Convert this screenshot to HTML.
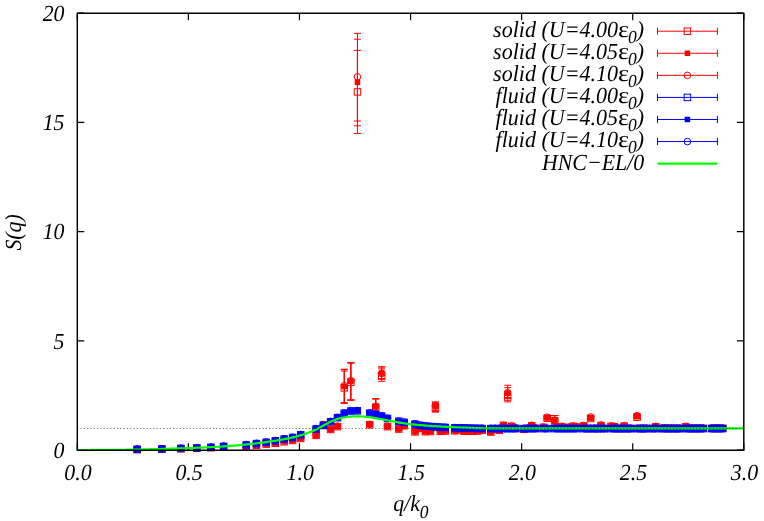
<!DOCTYPE html>
<html><head><meta charset="utf-8"><title>S(q)</title>
<style>html,body{margin:0;padding:0;background:#fff;}body{width:764px;height:521px;overflow:hidden;font-family:"Liberation Serif",serif;}svg{display:block;will-change:transform}</style>
</head><body>
<svg width="764" height="521" viewBox="0 0 764 521" font-family="Liberation Serif, serif" font-style="italic" font-size="22.1" fill="#000" text-rendering="geometricPrecision">
<rect width="764" height="521" fill="#fff"/>
<path fill="none" stroke="#000" stroke-width="1.2" d="M77.3 450.2v-7M77.3 13.2v7M188.38 450.2v-7M188.38 13.2v7M299.47 450.2v-7M299.47 13.2v7M410.55 450.2v-7M410.55 13.2v7M521.63 450.2v-7M521.63 13.2v7M632.72 450.2v-7M632.72 13.2v7M743.8 450.2v-7M743.8 13.2v7M77.3 450.2h7M743.8 450.2h-7M77.3 340.95h7M743.8 340.95h-7M77.3 231.7h7M743.8 231.7h-7M77.3 122.45h7M743.8 122.45h-7M77.3 13.2h7M743.8 13.2h-7"/>
<g stroke-width="1"><rect x="133.9" y="446.36" width="6.5" height="6.5" stroke="#ff0000" fill="none"/><rect x="158.61" y="445.96" width="6.5" height="6.5" stroke="#ff0000" fill="none"/><rect x="177.57" y="445.44" width="6.5" height="6.5" stroke="#ff0000" fill="none"/><rect x="193.55" y="445.04" width="6.5" height="6.5" stroke="#ff0000" fill="none"/><rect x="207.63" y="444.38" width="6.5" height="6.5" stroke="#ff0000" fill="none"/><rect x="220.37" y="443.42" width="6.5" height="6.5" stroke="#ff0000" fill="none"/><rect x="242.97" y="443.29" width="6.5" height="6.5" stroke="#ff0000" fill="none"/><rect x="253.2" y="441.98" width="6.5" height="6.5" stroke="#ff0000" fill="none"/><rect x="262.88" y="440.89" width="6.5" height="6.5" stroke="#ff0000" fill="none"/><rect x="272.09" y="440.01" width="6.5" height="6.5" stroke="#ff0000" fill="none"/><rect x="280.89" y="438.48" width="6.5" height="6.5" stroke="#ff0000" fill="none"/><rect x="289.33" y="437.17" width="6.5" height="6.5" stroke="#ff0000" fill="none"/><rect x="297.45" y="435.2" width="6.5" height="6.5" stroke="#ff0000" fill="none"/><rect x="312.86" y="432.14" width="6.5" height="6.5" stroke="#ff0000" fill="none"/><rect x="320.2" y="421.86" width="6.5" height="6.5" stroke="#ff0000" fill="none"/><rect x="327.33" y="426.23" width="6.5" height="6.5" stroke="#ff0000" fill="none"/><rect x="334.26" y="423.39" width="6.5" height="6.5" stroke="#ff0000" fill="none"/><path d="M344.27 403.19V371.03M340.77 403.19h7M340.77 371.03h7" stroke="#ff0000" fill="none"/><rect x="341.02" y="384.62" width="6.5" height="6.5" stroke="#ff0000" fill="none"/><path d="M350.86 400.12V362.83M347.36 400.12h7M347.36 362.83h7" stroke="#ff0000" fill="none"/><rect x="347.61" y="378.94" width="6.5" height="6.5" stroke="#ff0000" fill="none"/><path d="M357.45 133.47V50.34M353.95 133.47h7M353.95 50.34h7" stroke="#ff0000" fill="none"/><rect x="354.2" y="88.66" width="6.5" height="6.5" stroke="#ff0000" fill="none"/><rect x="366.48" y="421.53" width="6.5" height="6.5" stroke="#ff0000" fill="none"/><path d="M375.76 415V398.81M372.26 415h7M372.26 398.81h7" stroke="#ff0000" fill="none"/><rect x="372.51" y="404.09" width="6.5" height="6.5" stroke="#ff0000" fill="none"/><path d="M381.66 381.31V368.84M378.16 381.31h7M378.16 368.84h7" stroke="#ff0000" fill="none"/><rect x="378.41" y="372.38" width="6.5" height="6.5" stroke="#ff0000" fill="none"/><rect x="384.21" y="423.39" width="6.5" height="6.5" stroke="#ff0000" fill="none"/><rect x="395.48" y="425.79" width="6.5" height="6.5" stroke="#ff0000" fill="none"/><rect x="400.97" y="422.51" width="6.5" height="6.5" stroke="#ff0000" fill="none"/><rect x="411.69" y="428.64" width="6.5" height="6.5" stroke="#ff0000" fill="none"/><rect x="416.92" y="425.14" width="6.5" height="6.5" stroke="#ff0000" fill="none"/><rect x="422.07" y="428.42" width="6.5" height="6.5" stroke="#ff0000" fill="none"/><rect x="427.15" y="428.2" width="6.5" height="6.5" stroke="#ff0000" fill="none"/><path d="M435.41 412.16V403.41M431.91 412.16h7M431.91 403.41h7" stroke="#ff0000" fill="none"/><rect x="432.16" y="404.53" width="6.5" height="6.5" stroke="#ff0000" fill="none"/><rect x="437.1" y="427.98" width="6.5" height="6.5" stroke="#ff0000" fill="none"/><rect x="441.97" y="427.76" width="6.5" height="6.5" stroke="#ff0000" fill="none"/><rect x="451.52" y="427.54" width="6.5" height="6.5" stroke="#ff0000" fill="none"/><rect x="456.21" y="426.67" width="6.5" height="6.5" stroke="#ff0000" fill="none"/><rect x="460.84" y="427.98" width="6.5" height="6.5" stroke="#ff0000" fill="none"/><rect x="465.41" y="427.98" width="6.5" height="6.5" stroke="#ff0000" fill="none"/><rect x="469.93" y="427.98" width="6.5" height="6.5" stroke="#ff0000" fill="none"/><rect x="474.4" y="427.76" width="6.5" height="6.5" stroke="#ff0000" fill="none"/><rect x="478.83" y="427.11" width="6.5" height="6.5" stroke="#ff0000" fill="none"/><rect x="487.53" y="428.86" width="6.5" height="6.5" stroke="#ff0000" fill="none"/><rect x="491.81" y="425.79" width="6.5" height="6.5" stroke="#ff0000" fill="none"/><rect x="496.05" y="427.11" width="6.5" height="6.5" stroke="#ff0000" fill="none"/><rect x="500.25" y="422.29" width="6.5" height="6.5" stroke="#ff0000" fill="none"/><path d="M507.65 401.88V391.81M504.15 401.88h7M504.15 391.81h7" stroke="#ff0000" fill="none"/><rect x="504.4" y="393.81" width="6.5" height="6.5" stroke="#ff0000" fill="none"/><rect x="508.52" y="423.17" width="6.5" height="6.5" stroke="#ff0000" fill="none"/><rect x="512.6" y="425.14" width="6.5" height="6.5" stroke="#ff0000" fill="none"/><rect x="520.64" y="426.01" width="6.5" height="6.5" stroke="#ff0000" fill="none"/><rect x="524.61" y="425.14" width="6.5" height="6.5" stroke="#ff0000" fill="none"/><rect x="528.54" y="422.51" width="6.5" height="6.5" stroke="#ff0000" fill="none"/><rect x="532.44" y="425.14" width="6.5" height="6.5" stroke="#ff0000" fill="none"/><rect x="540.14" y="424.15" width="6.5" height="6.5" stroke="#ff0000" fill="none"/><path d="M547.2 419.81V416.75M543.7 419.81h7M543.7 416.75h7" stroke="#ff0000" fill="none"/><rect x="543.95" y="415.03" width="6.5" height="6.5" stroke="#ff0000" fill="none"/><path d="M554.71 423.75V415.55M551.21 423.75h7M551.21 415.55h7" stroke="#ff0000" fill="none"/><rect x="551.46" y="417.66" width="6.5" height="6.5" stroke="#ff0000" fill="none"/><rect x="555.17" y="423.82" width="6.5" height="6.5" stroke="#ff0000" fill="none"/><rect x="558.86" y="423.61" width="6.5" height="6.5" stroke="#ff0000" fill="none"/><rect x="562.52" y="425.14" width="6.5" height="6.5" stroke="#ff0000" fill="none"/><rect x="566.15" y="424.26" width="6.5" height="6.5" stroke="#ff0000" fill="none"/><rect x="569.75" y="423.17" width="6.5" height="6.5" stroke="#ff0000" fill="none"/><rect x="573.33" y="423.82" width="6.5" height="6.5" stroke="#ff0000" fill="none"/><rect x="580.41" y="422.73" width="6.5" height="6.5" stroke="#ff0000" fill="none"/><rect x="583.91" y="425.2" width="6.5" height="6.5" stroke="#ff0000" fill="none"/><path d="M590.64 420.25V416.75M587.14 420.25h7M587.14 416.75h7" stroke="#ff0000" fill="none"/><rect x="587.39" y="415.25" width="6.5" height="6.5" stroke="#ff0000" fill="none"/><rect x="590.85" y="425.2" width="6.5" height="6.5" stroke="#ff0000" fill="none"/><rect x="594.28" y="425.2" width="6.5" height="6.5" stroke="#ff0000" fill="none"/><rect x="597.69" y="422.29" width="6.5" height="6.5" stroke="#ff0000" fill="none"/><rect x="601.08" y="425.2" width="6.5" height="6.5" stroke="#ff0000" fill="none"/><rect x="607.79" y="423.17" width="6.5" height="6.5" stroke="#ff0000" fill="none"/><rect x="611.11" y="423.61" width="6.5" height="6.5" stroke="#ff0000" fill="none"/><rect x="614.42" y="425.19" width="6.5" height="6.5" stroke="#ff0000" fill="none"/><rect x="617.7" y="425.19" width="6.5" height="6.5" stroke="#ff0000" fill="none"/><rect x="620.96" y="422.95" width="6.5" height="6.5" stroke="#ff0000" fill="none"/><rect x="624.21" y="425.19" width="6.5" height="6.5" stroke="#ff0000" fill="none"/><rect x="627.43" y="425.19" width="6.5" height="6.5" stroke="#ff0000" fill="none"/><path d="M637.08 418.94V415.44M633.58 418.94h7M633.58 415.44h7" stroke="#ff0000" fill="none"/><rect x="633.83" y="413.94" width="6.5" height="6.5" stroke="#ff0000" fill="none"/><rect x="637" y="425.19" width="6.5" height="6.5" stroke="#ff0000" fill="none"/><rect x="640.15" y="425.19" width="6.5" height="6.5" stroke="#ff0000" fill="none"/><rect x="643.29" y="425.18" width="6.5" height="6.5" stroke="#ff0000" fill="none"/><rect x="649.51" y="425.18" width="6.5" height="6.5" stroke="#ff0000" fill="none"/><rect x="652.59" y="423.61" width="6.5" height="6.5" stroke="#ff0000" fill="none"/><rect x="658.71" y="425.18" width="6.5" height="6.5" stroke="#ff0000" fill="none"/><rect x="661.75" y="424.92" width="6.5" height="6.5" stroke="#ff0000" fill="none"/><rect x="664.77" y="425.17" width="6.5" height="6.5" stroke="#ff0000" fill="none"/><rect x="667.77" y="425.17" width="6.5" height="6.5" stroke="#ff0000" fill="none"/><rect x="670.76" y="425.17" width="6.5" height="6.5" stroke="#ff0000" fill="none"/><rect x="673.74" y="425.17" width="6.5" height="6.5" stroke="#ff0000" fill="none"/><rect x="676.7" y="425.16" width="6.5" height="6.5" stroke="#ff0000" fill="none"/><rect x="682.58" y="423.61" width="6.5" height="6.5" stroke="#ff0000" fill="none"/><rect x="685.49" y="425.16" width="6.5" height="6.5" stroke="#ff0000" fill="none"/><rect x="688.4" y="425.15" width="6.5" height="6.5" stroke="#ff0000" fill="none"/><rect x="691.29" y="425.15" width="6.5" height="6.5" stroke="#ff0000" fill="none"/><rect x="694.17" y="425.15" width="6.5" height="6.5" stroke="#ff0000" fill="none"/><rect x="697.03" y="425.15" width="6.5" height="6.5" stroke="#ff0000" fill="none"/><rect x="699.88" y="425.14" width="6.5" height="6.5" stroke="#ff0000" fill="none"/><rect x="708.35" y="425.13" width="6.5" height="6.5" stroke="#ff0000" fill="none"/><rect x="711.15" y="425.13" width="6.5" height="6.5" stroke="#ff0000" fill="none"/><rect x="713.94" y="425.13" width="6.5" height="6.5" stroke="#ff0000" fill="none"/><rect x="716.72" y="425.12" width="6.5" height="6.5" stroke="#ff0000" fill="none"/><rect x="719.48" y="425.12" width="6.5" height="6.5" stroke="#ff0000" fill="none"/></g>
<g stroke-width="1"><rect x="134.4" y="446.59" width="5.5" height="5.5" fill="#ff0000"/><rect x="159.11" y="446.2" width="5.5" height="5.5" fill="#ff0000"/><rect x="178.07" y="445.67" width="5.5" height="5.5" fill="#ff0000"/><rect x="194.05" y="445.28" width="5.5" height="5.5" fill="#ff0000"/><rect x="208.13" y="444.61" width="5.5" height="5.5" fill="#ff0000"/><rect x="220.87" y="443.66" width="5.5" height="5.5" fill="#ff0000"/><rect x="243.47" y="443.53" width="5.5" height="5.5" fill="#ff0000"/><rect x="253.7" y="442.22" width="5.5" height="5.5" fill="#ff0000"/><rect x="263.38" y="441.12" width="5.5" height="5.5" fill="#ff0000"/><rect x="272.59" y="440.25" width="5.5" height="5.5" fill="#ff0000"/><rect x="281.39" y="438.72" width="5.5" height="5.5" fill="#ff0000"/><rect x="289.83" y="437.41" width="5.5" height="5.5" fill="#ff0000"/><rect x="297.95" y="435.44" width="5.5" height="5.5" fill="#ff0000"/><rect x="313.36" y="432.38" width="5.5" height="5.5" fill="#ff0000"/><rect x="320.7" y="422.09" width="5.5" height="5.5" fill="#ff0000"/><rect x="327.83" y="426.47" width="5.5" height="5.5" fill="#ff0000"/><rect x="334.76" y="423.62" width="5.5" height="5.5" fill="#ff0000"/><path d="M344.27 403.19V369.39M340.77 403.19h7M340.77 369.39h7" stroke="#ff0000" fill="none"/><rect x="341.52" y="383.81" width="5.5" height="5.5" fill="#ff0000"/><path d="M350.86 400.12V362.83M347.36 400.12h7M347.36 362.83h7" stroke="#ff0000" fill="none"/><rect x="348.11" y="378.56" width="5.5" height="5.5" fill="#ff0000"/><path d="M357.45 125.81V39.19M353.95 125.81h7M353.95 39.19h7" stroke="#ff0000" fill="none"/><rect x="354.7" y="79.53" width="5.5" height="5.5" fill="#ff0000"/><rect x="366.98" y="421.77" width="5.5" height="5.5" fill="#ff0000"/><path d="M375.76 415V398.81M372.26 415h7M372.26 398.81h7" stroke="#ff0000" fill="none"/><rect x="373.01" y="403.94" width="5.5" height="5.5" fill="#ff0000"/><path d="M381.66 379.12V366.88M378.16 379.12h7M378.16 366.88h7" stroke="#ff0000" fill="none"/><rect x="378.91" y="370.25" width="5.5" height="5.5" fill="#ff0000"/><rect x="384.71" y="423.62" width="5.5" height="5.5" fill="#ff0000"/><rect x="395.98" y="426.03" width="5.5" height="5.5" fill="#ff0000"/><rect x="401.47" y="422.75" width="5.5" height="5.5" fill="#ff0000"/><rect x="412.19" y="428.88" width="5.5" height="5.5" fill="#ff0000"/><rect x="417.42" y="425.38" width="5.5" height="5.5" fill="#ff0000"/><rect x="422.57" y="428.66" width="5.5" height="5.5" fill="#ff0000"/><rect x="427.65" y="428.44" width="5.5" height="5.5" fill="#ff0000"/><path d="M435.41 411.06V402.09M431.91 411.06h7M431.91 402.09h7" stroke="#ff0000" fill="none"/><rect x="432.66" y="403.94" width="5.5" height="5.5" fill="#ff0000"/><rect x="437.6" y="428.22" width="5.5" height="5.5" fill="#ff0000"/><rect x="442.47" y="428" width="5.5" height="5.5" fill="#ff0000"/><rect x="452.02" y="427.78" width="5.5" height="5.5" fill="#ff0000"/><rect x="456.71" y="426.91" width="5.5" height="5.5" fill="#ff0000"/><rect x="461.34" y="428.22" width="5.5" height="5.5" fill="#ff0000"/><rect x="465.91" y="428.22" width="5.5" height="5.5" fill="#ff0000"/><rect x="470.43" y="428.22" width="5.5" height="5.5" fill="#ff0000"/><rect x="474.9" y="428" width="5.5" height="5.5" fill="#ff0000"/><rect x="479.33" y="427.34" width="5.5" height="5.5" fill="#ff0000"/><rect x="488.03" y="429.09" width="5.5" height="5.5" fill="#ff0000"/><rect x="492.31" y="426.03" width="5.5" height="5.5" fill="#ff0000"/><rect x="496.55" y="427.34" width="5.5" height="5.5" fill="#ff0000"/><rect x="500.75" y="422.53" width="5.5" height="5.5" fill="#ff0000"/><path d="M507.65 398.59V387.66M504.15 398.59h7M504.15 387.66h7" stroke="#ff0000" fill="none"/><rect x="504.9" y="390.38" width="5.5" height="5.5" fill="#ff0000"/><rect x="509.02" y="423.41" width="5.5" height="5.5" fill="#ff0000"/><rect x="513.1" y="425.38" width="5.5" height="5.5" fill="#ff0000"/><rect x="521.14" y="426.25" width="5.5" height="5.5" fill="#ff0000"/><rect x="525.11" y="425.38" width="5.5" height="5.5" fill="#ff0000"/><rect x="529.04" y="422.75" width="5.5" height="5.5" fill="#ff0000"/><rect x="532.94" y="425.38" width="5.5" height="5.5" fill="#ff0000"/><rect x="540.64" y="424.39" width="5.5" height="5.5" fill="#ff0000"/><path d="M547.2 419.38V416.09M543.7 419.38h7M543.7 416.09h7" stroke="#ff0000" fill="none"/><rect x="544.45" y="414.88" width="5.5" height="5.5" fill="#ff0000"/><path d="M554.71 423.75V415.55M551.21 423.75h7M551.21 415.55h7" stroke="#ff0000" fill="none"/><rect x="551.96" y="417.72" width="5.5" height="5.5" fill="#ff0000"/><rect x="555.67" y="424.06" width="5.5" height="5.5" fill="#ff0000"/><rect x="559.36" y="423.84" width="5.5" height="5.5" fill="#ff0000"/><rect x="563.02" y="425.38" width="5.5" height="5.5" fill="#ff0000"/><rect x="566.65" y="424.5" width="5.5" height="5.5" fill="#ff0000"/><rect x="570.25" y="423.41" width="5.5" height="5.5" fill="#ff0000"/><rect x="573.83" y="424.06" width="5.5" height="5.5" fill="#ff0000"/><rect x="580.91" y="422.97" width="5.5" height="5.5" fill="#ff0000"/><rect x="584.41" y="425.7" width="5.5" height="5.5" fill="#ff0000"/><path d="M590.64 419.38V416.09M587.14 419.38h7M587.14 416.09h7" stroke="#ff0000" fill="none"/><rect x="587.89" y="414.88" width="5.5" height="5.5" fill="#ff0000"/><rect x="591.35" y="425.7" width="5.5" height="5.5" fill="#ff0000"/><rect x="594.78" y="425.7" width="5.5" height="5.5" fill="#ff0000"/><rect x="598.19" y="422.53" width="5.5" height="5.5" fill="#ff0000"/><rect x="601.58" y="425.7" width="5.5" height="5.5" fill="#ff0000"/><rect x="608.29" y="423.41" width="5.5" height="5.5" fill="#ff0000"/><rect x="611.61" y="423.84" width="5.5" height="5.5" fill="#ff0000"/><rect x="614.92" y="425.69" width="5.5" height="5.5" fill="#ff0000"/><rect x="618.2" y="425.69" width="5.5" height="5.5" fill="#ff0000"/><rect x="621.46" y="423.19" width="5.5" height="5.5" fill="#ff0000"/><rect x="624.71" y="425.69" width="5.5" height="5.5" fill="#ff0000"/><rect x="627.93" y="425.69" width="5.5" height="5.5" fill="#ff0000"/><path d="M637.08 418.06V414.56M633.58 418.06h7M633.58 414.56h7" stroke="#ff0000" fill="none"/><rect x="634.33" y="413.56" width="5.5" height="5.5" fill="#ff0000"/><rect x="637.5" y="425.69" width="5.5" height="5.5" fill="#ff0000"/><rect x="640.65" y="425.69" width="5.5" height="5.5" fill="#ff0000"/><rect x="643.79" y="425.68" width="5.5" height="5.5" fill="#ff0000"/><rect x="650.01" y="425.68" width="5.5" height="5.5" fill="#ff0000"/><rect x="653.09" y="423.84" width="5.5" height="5.5" fill="#ff0000"/><rect x="659.21" y="425.68" width="5.5" height="5.5" fill="#ff0000"/><rect x="662.25" y="425.16" width="5.5" height="5.5" fill="#ff0000"/><rect x="665.27" y="425.67" width="5.5" height="5.5" fill="#ff0000"/><rect x="668.27" y="425.67" width="5.5" height="5.5" fill="#ff0000"/><rect x="671.26" y="425.67" width="5.5" height="5.5" fill="#ff0000"/><rect x="674.24" y="425.67" width="5.5" height="5.5" fill="#ff0000"/><rect x="677.2" y="425.66" width="5.5" height="5.5" fill="#ff0000"/><rect x="683.08" y="423.84" width="5.5" height="5.5" fill="#ff0000"/><rect x="685.99" y="425.66" width="5.5" height="5.5" fill="#ff0000"/><rect x="688.9" y="425.65" width="5.5" height="5.5" fill="#ff0000"/><rect x="691.79" y="425.65" width="5.5" height="5.5" fill="#ff0000"/><rect x="694.67" y="425.65" width="5.5" height="5.5" fill="#ff0000"/><rect x="697.53" y="425.65" width="5.5" height="5.5" fill="#ff0000"/><rect x="700.38" y="425.64" width="5.5" height="5.5" fill="#ff0000"/><rect x="708.85" y="425.63" width="5.5" height="5.5" fill="#ff0000"/><rect x="711.65" y="425.63" width="5.5" height="5.5" fill="#ff0000"/><rect x="714.44" y="425.63" width="5.5" height="5.5" fill="#ff0000"/><rect x="717.22" y="425.62" width="5.5" height="5.5" fill="#ff0000"/><rect x="719.98" y="425.62" width="5.5" height="5.5" fill="#ff0000"/></g>
<g stroke-width="1"><circle cx="137.15" cy="449.08" r="3.3" stroke="#ff0000" fill="none"/><circle cx="161.86" cy="448.69" r="3.3" stroke="#ff0000" fill="none"/><circle cx="180.82" cy="448.16" r="3.3" stroke="#ff0000" fill="none"/><circle cx="196.8" cy="447.77" r="3.3" stroke="#ff0000" fill="none"/><circle cx="210.88" cy="447.1" r="3.3" stroke="#ff0000" fill="none"/><circle cx="223.62" cy="446.15" r="3.3" stroke="#ff0000" fill="none"/><circle cx="246.22" cy="446.02" r="3.3" stroke="#ff0000" fill="none"/><circle cx="256.45" cy="444.71" r="3.3" stroke="#ff0000" fill="none"/><circle cx="266.13" cy="443.61" r="3.3" stroke="#ff0000" fill="none"/><circle cx="275.34" cy="442.74" r="3.3" stroke="#ff0000" fill="none"/><circle cx="284.14" cy="441.21" r="3.3" stroke="#ff0000" fill="none"/><circle cx="292.58" cy="439.89" r="3.3" stroke="#ff0000" fill="none"/><circle cx="300.7" cy="437.93" r="3.3" stroke="#ff0000" fill="none"/><circle cx="316.11" cy="434.86" r="3.3" stroke="#ff0000" fill="none"/><circle cx="323.45" cy="424.58" r="3.3" stroke="#ff0000" fill="none"/><circle cx="330.58" cy="428.96" r="3.3" stroke="#ff0000" fill="none"/><circle cx="337.51" cy="426.11" r="3.3" stroke="#ff0000" fill="none"/><path d="M344.27 402.75V369.39M340.77 402.75h7M340.77 369.39h7" stroke="#ff0000" fill="none"/><circle cx="344.27" cy="385.69" r="3.3" stroke="#ff0000" fill="none"/><path d="M350.86 399.91V362.83M347.36 399.91h7M347.36 362.83h7" stroke="#ff0000" fill="none"/><circle cx="350.86" cy="380.66" r="3.3" stroke="#ff0000" fill="none"/><path d="M357.45 121V33.39M353.95 121h7M353.95 33.39h7" stroke="#ff0000" fill="none"/><circle cx="357.45" cy="76.81" r="3.3" stroke="#ff0000" fill="none"/><circle cx="369.73" cy="424.25" r="3.3" stroke="#ff0000" fill="none"/><path d="M375.76 415V398.81M372.26 415h7M372.26 398.81h7" stroke="#ff0000" fill="none"/><circle cx="375.76" cy="406.25" r="3.3" stroke="#ff0000" fill="none"/><path d="M381.66 379.12V366.88M378.16 379.12h7M378.16 366.88h7" stroke="#ff0000" fill="none"/><circle cx="381.66" cy="373.44" r="3.3" stroke="#ff0000" fill="none"/><circle cx="387.46" cy="426.11" r="3.3" stroke="#ff0000" fill="none"/><circle cx="398.73" cy="428.52" r="3.3" stroke="#ff0000" fill="none"/><circle cx="404.22" cy="425.24" r="3.3" stroke="#ff0000" fill="none"/><circle cx="414.94" cy="431.36" r="3.3" stroke="#ff0000" fill="none"/><circle cx="420.17" cy="427.86" r="3.3" stroke="#ff0000" fill="none"/><circle cx="425.32" cy="431.14" r="3.3" stroke="#ff0000" fill="none"/><circle cx="430.4" cy="430.93" r="3.3" stroke="#ff0000" fill="none"/><path d="M435.41 410.62V402.09M431.91 410.62h7M431.91 402.09h7" stroke="#ff0000" fill="none"/><circle cx="435.41" cy="405.81" r="3.3" stroke="#ff0000" fill="none"/><circle cx="440.35" cy="430.71" r="3.3" stroke="#ff0000" fill="none"/><circle cx="445.22" cy="430.49" r="3.3" stroke="#ff0000" fill="none"/><circle cx="454.77" cy="430.27" r="3.3" stroke="#ff0000" fill="none"/><circle cx="459.46" cy="429.39" r="3.3" stroke="#ff0000" fill="none"/><circle cx="464.09" cy="430.71" r="3.3" stroke="#ff0000" fill="none"/><circle cx="468.66" cy="430.71" r="3.3" stroke="#ff0000" fill="none"/><circle cx="473.18" cy="430.71" r="3.3" stroke="#ff0000" fill="none"/><circle cx="477.65" cy="430.49" r="3.3" stroke="#ff0000" fill="none"/><circle cx="482.08" cy="429.83" r="3.3" stroke="#ff0000" fill="none"/><circle cx="490.78" cy="431.58" r="3.3" stroke="#ff0000" fill="none"/><circle cx="495.06" cy="428.52" r="3.3" stroke="#ff0000" fill="none"/><circle cx="499.3" cy="429.83" r="3.3" stroke="#ff0000" fill="none"/><circle cx="503.5" cy="425.02" r="3.3" stroke="#ff0000" fill="none"/><path d="M507.65 397.5V385.25M504.15 397.5h7M504.15 385.25h7" stroke="#ff0000" fill="none"/><circle cx="507.65" cy="392.69" r="3.3" stroke="#ff0000" fill="none"/><circle cx="511.77" cy="425.89" r="3.3" stroke="#ff0000" fill="none"/><circle cx="515.85" cy="427.86" r="3.3" stroke="#ff0000" fill="none"/><circle cx="523.89" cy="428.74" r="3.3" stroke="#ff0000" fill="none"/><circle cx="527.86" cy="427.86" r="3.3" stroke="#ff0000" fill="none"/><circle cx="531.79" cy="425.24" r="3.3" stroke="#ff0000" fill="none"/><circle cx="535.69" cy="427.86" r="3.3" stroke="#ff0000" fill="none"/><circle cx="543.39" cy="426.88" r="3.3" stroke="#ff0000" fill="none"/><path d="M547.2 418.94V415.66M543.7 418.94h7M543.7 415.66h7" stroke="#ff0000" fill="none"/><circle cx="547.2" cy="417.19" r="3.3" stroke="#ff0000" fill="none"/><path d="M554.71 423.75V415.55M551.21 423.75h7M551.21 415.55h7" stroke="#ff0000" fill="none"/><circle cx="554.71" cy="420.25" r="3.3" stroke="#ff0000" fill="none"/><circle cx="558.42" cy="426.55" r="3.3" stroke="#ff0000" fill="none"/><circle cx="562.11" cy="426.33" r="3.3" stroke="#ff0000" fill="none"/><circle cx="565.77" cy="427.86" r="3.3" stroke="#ff0000" fill="none"/><circle cx="569.4" cy="426.99" r="3.3" stroke="#ff0000" fill="none"/><circle cx="573" cy="425.89" r="3.3" stroke="#ff0000" fill="none"/><circle cx="576.58" cy="426.55" r="3.3" stroke="#ff0000" fill="none"/><circle cx="583.66" cy="425.46" r="3.3" stroke="#ff0000" fill="none"/><circle cx="587.16" cy="428.45" r="3.3" stroke="#ff0000" fill="none"/><path d="M590.64 418.94V415.44M587.14 418.94h7M587.14 415.44h7" stroke="#ff0000" fill="none"/><circle cx="590.64" cy="416.97" r="3.3" stroke="#ff0000" fill="none"/><circle cx="594.1" cy="428.45" r="3.3" stroke="#ff0000" fill="none"/><circle cx="597.53" cy="428.45" r="3.3" stroke="#ff0000" fill="none"/><circle cx="600.94" cy="425.02" r="3.3" stroke="#ff0000" fill="none"/><circle cx="604.33" cy="428.45" r="3.3" stroke="#ff0000" fill="none"/><circle cx="611.04" cy="425.89" r="3.3" stroke="#ff0000" fill="none"/><circle cx="614.36" cy="426.33" r="3.3" stroke="#ff0000" fill="none"/><circle cx="617.67" cy="428.44" r="3.3" stroke="#ff0000" fill="none"/><circle cx="620.95" cy="428.44" r="3.3" stroke="#ff0000" fill="none"/><circle cx="624.21" cy="425.68" r="3.3" stroke="#ff0000" fill="none"/><circle cx="627.46" cy="428.44" r="3.3" stroke="#ff0000" fill="none"/><circle cx="630.68" cy="428.44" r="3.3" stroke="#ff0000" fill="none"/><path d="M637.08 417.62V413.91M633.58 417.62h7M633.58 413.91h7" stroke="#ff0000" fill="none"/><circle cx="637.08" cy="415.66" r="3.3" stroke="#ff0000" fill="none"/><circle cx="640.25" cy="428.44" r="3.3" stroke="#ff0000" fill="none"/><circle cx="643.4" cy="428.44" r="3.3" stroke="#ff0000" fill="none"/><circle cx="646.54" cy="428.43" r="3.3" stroke="#ff0000" fill="none"/><circle cx="652.76" cy="428.43" r="3.3" stroke="#ff0000" fill="none"/><circle cx="655.84" cy="426.33" r="3.3" stroke="#ff0000" fill="none"/><circle cx="661.96" cy="428.43" r="3.3" stroke="#ff0000" fill="none"/><circle cx="665" cy="427.64" r="3.3" stroke="#ff0000" fill="none"/><circle cx="668.02" cy="428.42" r="3.3" stroke="#ff0000" fill="none"/><circle cx="671.02" cy="428.42" r="3.3" stroke="#ff0000" fill="none"/><circle cx="674.01" cy="428.42" r="3.3" stroke="#ff0000" fill="none"/><circle cx="676.99" cy="428.42" r="3.3" stroke="#ff0000" fill="none"/><circle cx="679.95" cy="428.41" r="3.3" stroke="#ff0000" fill="none"/><circle cx="685.83" cy="426.33" r="3.3" stroke="#ff0000" fill="none"/><circle cx="688.74" cy="428.41" r="3.3" stroke="#ff0000" fill="none"/><circle cx="691.65" cy="428.4" r="3.3" stroke="#ff0000" fill="none"/><circle cx="694.54" cy="428.4" r="3.3" stroke="#ff0000" fill="none"/><circle cx="697.42" cy="428.4" r="3.3" stroke="#ff0000" fill="none"/><circle cx="700.28" cy="428.4" r="3.3" stroke="#ff0000" fill="none"/><circle cx="703.13" cy="428.39" r="3.3" stroke="#ff0000" fill="none"/><circle cx="711.6" cy="428.38" r="3.3" stroke="#ff0000" fill="none"/><circle cx="714.4" cy="428.38" r="3.3" stroke="#ff0000" fill="none"/><circle cx="717.19" cy="428.38" r="3.3" stroke="#ff0000" fill="none"/><circle cx="719.97" cy="428.37" r="3.3" stroke="#ff0000" fill="none"/><circle cx="722.73" cy="428.37" r="3.3" stroke="#ff0000" fill="none"/></g>
<g stroke-width="1"><rect x="133.9" y="446.14" width="6.5" height="6.5" stroke="#0000ff" fill="none"/><rect x="158.61" y="445.74" width="6.5" height="6.5" stroke="#0000ff" fill="none"/><rect x="177.57" y="445.22" width="6.5" height="6.5" stroke="#0000ff" fill="none"/><rect x="193.55" y="444.82" width="6.5" height="6.5" stroke="#0000ff" fill="none"/><rect x="207.63" y="444.16" width="6.5" height="6.5" stroke="#0000ff" fill="none"/><rect x="220.37" y="443.2" width="6.5" height="6.5" stroke="#0000ff" fill="none"/><rect x="242.97" y="441.68" width="6.5" height="6.5" stroke="#0000ff" fill="none"/><rect x="253.2" y="440.36" width="6.5" height="6.5" stroke="#0000ff" fill="none"/><rect x="262.88" y="439.06" width="6.5" height="6.5" stroke="#0000ff" fill="none"/><rect x="272.09" y="437.51" width="6.5" height="6.5" stroke="#0000ff" fill="none"/><rect x="280.89" y="435.78" width="6.5" height="6.5" stroke="#0000ff" fill="none"/><rect x="289.33" y="434.25" width="6.5" height="6.5" stroke="#0000ff" fill="none"/><rect x="297.45" y="431.58" width="6.5" height="6.5" stroke="#0000ff" fill="none"/><rect x="312.86" y="425.73" width="6.5" height="6.5" stroke="#0000ff" fill="none"/><rect x="320.2" y="422.22" width="6.5" height="6.5" stroke="#0000ff" fill="none"/><rect x="327.33" y="418.49" width="6.5" height="6.5" stroke="#0000ff" fill="none"/><rect x="334.26" y="414.41" width="6.5" height="6.5" stroke="#0000ff" fill="none"/><rect x="341.02" y="409.96" width="6.5" height="6.5" stroke="#0000ff" fill="none"/><rect x="347.61" y="407.77" width="6.5" height="6.5" stroke="#0000ff" fill="none"/><rect x="354.04" y="407.55" width="6.5" height="6.5" stroke="#0000ff" fill="none"/><rect x="366.48" y="409.95" width="6.5" height="6.5" stroke="#0000ff" fill="none"/><rect x="372.51" y="411.27" width="6.5" height="6.5" stroke="#0000ff" fill="none"/><rect x="378.41" y="412.8" width="6.5" height="6.5" stroke="#0000ff" fill="none"/><rect x="384.21" y="415.21" width="6.5" height="6.5" stroke="#0000ff" fill="none"/><rect x="395.48" y="418.05" width="6.5" height="6.5" stroke="#0000ff" fill="none"/><rect x="400.97" y="419.14" width="6.5" height="6.5" stroke="#0000ff" fill="none"/><rect x="411.69" y="420.89" width="6.5" height="6.5" stroke="#0000ff" fill="none"/><rect x="416.92" y="422.19" width="6.5" height="6.5" stroke="#0000ff" fill="none"/><rect x="422.07" y="422.83" width="6.5" height="6.5" stroke="#0000ff" fill="none"/><rect x="427.15" y="423.3" width="6.5" height="6.5" stroke="#0000ff" fill="none"/><rect x="432.16" y="423.69" width="6.5" height="6.5" stroke="#0000ff" fill="none"/><rect x="437.1" y="424" width="6.5" height="6.5" stroke="#0000ff" fill="none"/><rect x="441.97" y="424.25" width="6.5" height="6.5" stroke="#0000ff" fill="none"/><rect x="451.52" y="424.61" width="6.5" height="6.5" stroke="#0000ff" fill="none"/><rect x="456.21" y="424.75" width="6.5" height="6.5" stroke="#0000ff" fill="none"/><rect x="460.84" y="424.89" width="6.5" height="6.5" stroke="#0000ff" fill="none"/><rect x="465.41" y="425.01" width="6.5" height="6.5" stroke="#0000ff" fill="none"/><rect x="469.93" y="425.11" width="6.5" height="6.5" stroke="#0000ff" fill="none"/><rect x="474.4" y="425.2" width="6.5" height="6.5" stroke="#0000ff" fill="none"/><rect x="478.83" y="425.27" width="6.5" height="6.5" stroke="#0000ff" fill="none"/><rect x="487.53" y="425.34" width="6.5" height="6.5" stroke="#0000ff" fill="none"/><rect x="491.81" y="425.35" width="6.5" height="6.5" stroke="#0000ff" fill="none"/><rect x="496.05" y="425.35" width="6.5" height="6.5" stroke="#0000ff" fill="none"/><rect x="500.25" y="425.36" width="6.5" height="6.5" stroke="#0000ff" fill="none"/><rect x="504.4" y="425.37" width="6.5" height="6.5" stroke="#0000ff" fill="none"/><rect x="508.52" y="425.37" width="6.5" height="6.5" stroke="#0000ff" fill="none"/><rect x="512.6" y="425.38" width="6.5" height="6.5" stroke="#0000ff" fill="none"/><rect x="520.64" y="425.38" width="6.5" height="6.5" stroke="#0000ff" fill="none"/><rect x="524.61" y="425.38" width="6.5" height="6.5" stroke="#0000ff" fill="none"/><rect x="528.54" y="425.38" width="6.5" height="6.5" stroke="#0000ff" fill="none"/><rect x="532.44" y="425.38" width="6.5" height="6.5" stroke="#0000ff" fill="none"/><rect x="540.14" y="425.38" width="6.5" height="6.5" stroke="#0000ff" fill="none"/><rect x="543.95" y="425.38" width="6.5" height="6.5" stroke="#0000ff" fill="none"/><rect x="551.46" y="425.38" width="6.5" height="6.5" stroke="#0000ff" fill="none"/><rect x="555.17" y="425.38" width="6.5" height="6.5" stroke="#0000ff" fill="none"/><rect x="558.86" y="425.38" width="6.5" height="6.5" stroke="#0000ff" fill="none"/><rect x="562.52" y="425.38" width="6.5" height="6.5" stroke="#0000ff" fill="none"/><rect x="566.15" y="425.38" width="6.5" height="6.5" stroke="#0000ff" fill="none"/><rect x="569.75" y="425.38" width="6.5" height="6.5" stroke="#0000ff" fill="none"/><rect x="573.33" y="425.38" width="6.5" height="6.5" stroke="#0000ff" fill="none"/><rect x="580.41" y="425.38" width="6.5" height="6.5" stroke="#0000ff" fill="none"/><rect x="583.91" y="425.38" width="6.5" height="6.5" stroke="#0000ff" fill="none"/><rect x="587.39" y="425.37" width="6.5" height="6.5" stroke="#0000ff" fill="none"/><rect x="590.85" y="425.37" width="6.5" height="6.5" stroke="#0000ff" fill="none"/><rect x="594.28" y="425.37" width="6.5" height="6.5" stroke="#0000ff" fill="none"/><rect x="597.69" y="425.37" width="6.5" height="6.5" stroke="#0000ff" fill="none"/><rect x="601.08" y="425.37" width="6.5" height="6.5" stroke="#0000ff" fill="none"/><rect x="607.79" y="425.37" width="6.5" height="6.5" stroke="#0000ff" fill="none"/><rect x="611.11" y="425.37" width="6.5" height="6.5" stroke="#0000ff" fill="none"/><rect x="614.42" y="425.37" width="6.5" height="6.5" stroke="#0000ff" fill="none"/><rect x="617.7" y="425.37" width="6.5" height="6.5" stroke="#0000ff" fill="none"/><rect x="620.96" y="425.37" width="6.5" height="6.5" stroke="#0000ff" fill="none"/><rect x="624.21" y="425.37" width="6.5" height="6.5" stroke="#0000ff" fill="none"/><rect x="627.43" y="425.37" width="6.5" height="6.5" stroke="#0000ff" fill="none"/><rect x="633.83" y="425.36" width="6.5" height="6.5" stroke="#0000ff" fill="none"/><rect x="637" y="425.36" width="6.5" height="6.5" stroke="#0000ff" fill="none"/><rect x="640.15" y="425.36" width="6.5" height="6.5" stroke="#0000ff" fill="none"/><rect x="643.29" y="425.36" width="6.5" height="6.5" stroke="#0000ff" fill="none"/><rect x="649.51" y="425.36" width="6.5" height="6.5" stroke="#0000ff" fill="none"/><rect x="652.59" y="425.35" width="6.5" height="6.5" stroke="#0000ff" fill="none"/><rect x="658.71" y="425.35" width="6.5" height="6.5" stroke="#0000ff" fill="none"/><rect x="661.75" y="425.35" width="6.5" height="6.5" stroke="#0000ff" fill="none"/><rect x="664.77" y="425.35" width="6.5" height="6.5" stroke="#0000ff" fill="none"/><rect x="667.77" y="425.34" width="6.5" height="6.5" stroke="#0000ff" fill="none"/><rect x="670.76" y="425.34" width="6.5" height="6.5" stroke="#0000ff" fill="none"/><rect x="673.74" y="425.34" width="6.5" height="6.5" stroke="#0000ff" fill="none"/><rect x="676.7" y="425.34" width="6.5" height="6.5" stroke="#0000ff" fill="none"/><rect x="682.58" y="425.33" width="6.5" height="6.5" stroke="#0000ff" fill="none"/><rect x="685.49" y="425.33" width="6.5" height="6.5" stroke="#0000ff" fill="none"/><rect x="688.4" y="425.33" width="6.5" height="6.5" stroke="#0000ff" fill="none"/><rect x="691.29" y="425.33" width="6.5" height="6.5" stroke="#0000ff" fill="none"/><rect x="694.17" y="425.32" width="6.5" height="6.5" stroke="#0000ff" fill="none"/><rect x="697.03" y="425.32" width="6.5" height="6.5" stroke="#0000ff" fill="none"/><rect x="699.88" y="425.32" width="6.5" height="6.5" stroke="#0000ff" fill="none"/><rect x="708.35" y="425.31" width="6.5" height="6.5" stroke="#0000ff" fill="none"/><rect x="711.15" y="425.31" width="6.5" height="6.5" stroke="#0000ff" fill="none"/><rect x="713.94" y="425.3" width="6.5" height="6.5" stroke="#0000ff" fill="none"/><rect x="716.72" y="425.3" width="6.5" height="6.5" stroke="#0000ff" fill="none"/><rect x="719.48" y="425.3" width="6.5" height="6.5" stroke="#0000ff" fill="none"/></g>
<g stroke-width="1"><rect x="134.4" y="446.46" width="5.5" height="5.5" fill="#0000ff"/><rect x="159.11" y="446.07" width="5.5" height="5.5" fill="#0000ff"/><rect x="178.07" y="445.54" width="5.5" height="5.5" fill="#0000ff"/><rect x="194.05" y="445.15" width="5.5" height="5.5" fill="#0000ff"/><rect x="208.13" y="444.48" width="5.5" height="5.5" fill="#0000ff"/><rect x="220.87" y="443.53" width="5.5" height="5.5" fill="#0000ff"/><rect x="243.47" y="442" width="5.5" height="5.5" fill="#0000ff"/><rect x="253.7" y="440.68" width="5.5" height="5.5" fill="#0000ff"/><rect x="263.38" y="439.38" width="5.5" height="5.5" fill="#0000ff"/><rect x="272.59" y="437.84" width="5.5" height="5.5" fill="#0000ff"/><rect x="281.39" y="436.1" width="5.5" height="5.5" fill="#0000ff"/><rect x="289.83" y="434.57" width="5.5" height="5.5" fill="#0000ff"/><rect x="297.95" y="431.91" width="5.5" height="5.5" fill="#0000ff"/><rect x="313.36" y="426.05" width="5.5" height="5.5" fill="#0000ff"/><rect x="320.7" y="422.54" width="5.5" height="5.5" fill="#0000ff"/><rect x="327.83" y="418.81" width="5.5" height="5.5" fill="#0000ff"/><rect x="334.76" y="414.73" width="5.5" height="5.5" fill="#0000ff"/><rect x="341.52" y="410.28" width="5.5" height="5.5" fill="#0000ff"/><rect x="348.11" y="408.09" width="5.5" height="5.5" fill="#0000ff"/><rect x="354.54" y="407.88" width="5.5" height="5.5" fill="#0000ff"/><rect x="366.98" y="410.28" width="5.5" height="5.5" fill="#0000ff"/><rect x="373.01" y="411.59" width="5.5" height="5.5" fill="#0000ff"/><rect x="378.91" y="413.13" width="5.5" height="5.5" fill="#0000ff"/><rect x="384.71" y="415.53" width="5.5" height="5.5" fill="#0000ff"/><rect x="395.98" y="418.37" width="5.5" height="5.5" fill="#0000ff"/><rect x="401.47" y="419.47" width="5.5" height="5.5" fill="#0000ff"/><rect x="412.19" y="421.22" width="5.5" height="5.5" fill="#0000ff"/><rect x="417.42" y="422.51" width="5.5" height="5.5" fill="#0000ff"/><rect x="422.57" y="423.16" width="5.5" height="5.5" fill="#0000ff"/><rect x="427.65" y="423.63" width="5.5" height="5.5" fill="#0000ff"/><rect x="432.66" y="424.01" width="5.5" height="5.5" fill="#0000ff"/><rect x="437.6" y="424.32" width="5.5" height="5.5" fill="#0000ff"/><rect x="442.47" y="424.57" width="5.5" height="5.5" fill="#0000ff"/><rect x="452.02" y="424.93" width="5.5" height="5.5" fill="#0000ff"/><rect x="456.71" y="425.08" width="5.5" height="5.5" fill="#0000ff"/><rect x="461.34" y="425.21" width="5.5" height="5.5" fill="#0000ff"/><rect x="465.91" y="425.33" width="5.5" height="5.5" fill="#0000ff"/><rect x="470.43" y="425.44" width="5.5" height="5.5" fill="#0000ff"/><rect x="474.9" y="425.52" width="5.5" height="5.5" fill="#0000ff"/><rect x="479.33" y="425.59" width="5.5" height="5.5" fill="#0000ff"/><rect x="488.03" y="425.66" width="5.5" height="5.5" fill="#0000ff"/><rect x="492.31" y="425.67" width="5.5" height="5.5" fill="#0000ff"/><rect x="496.55" y="425.68" width="5.5" height="5.5" fill="#0000ff"/><rect x="500.75" y="425.69" width="5.5" height="5.5" fill="#0000ff"/><rect x="504.9" y="425.69" width="5.5" height="5.5" fill="#0000ff"/><rect x="509.02" y="425.7" width="5.5" height="5.5" fill="#0000ff"/><rect x="513.1" y="425.7" width="5.5" height="5.5" fill="#0000ff"/><rect x="521.14" y="425.7" width="5.5" height="5.5" fill="#0000ff"/><rect x="525.11" y="425.7" width="5.5" height="5.5" fill="#0000ff"/><rect x="529.04" y="425.7" width="5.5" height="5.5" fill="#0000ff"/><rect x="532.94" y="425.7" width="5.5" height="5.5" fill="#0000ff"/><rect x="540.64" y="425.7" width="5.5" height="5.5" fill="#0000ff"/><rect x="544.45" y="425.7" width="5.5" height="5.5" fill="#0000ff"/><rect x="551.96" y="425.7" width="5.5" height="5.5" fill="#0000ff"/><rect x="555.67" y="425.7" width="5.5" height="5.5" fill="#0000ff"/><rect x="559.36" y="425.7" width="5.5" height="5.5" fill="#0000ff"/><rect x="563.02" y="425.7" width="5.5" height="5.5" fill="#0000ff"/><rect x="566.65" y="425.7" width="5.5" height="5.5" fill="#0000ff"/><rect x="570.25" y="425.7" width="5.5" height="5.5" fill="#0000ff"/><rect x="573.83" y="425.7" width="5.5" height="5.5" fill="#0000ff"/><rect x="580.91" y="425.7" width="5.5" height="5.5" fill="#0000ff"/><rect x="584.41" y="425.7" width="5.5" height="5.5" fill="#0000ff"/><rect x="587.89" y="425.7" width="5.5" height="5.5" fill="#0000ff"/><rect x="591.35" y="425.7" width="5.5" height="5.5" fill="#0000ff"/><rect x="594.78" y="425.7" width="5.5" height="5.5" fill="#0000ff"/><rect x="598.19" y="425.7" width="5.5" height="5.5" fill="#0000ff"/><rect x="601.58" y="425.7" width="5.5" height="5.5" fill="#0000ff"/><rect x="608.29" y="425.7" width="5.5" height="5.5" fill="#0000ff"/><rect x="611.61" y="425.7" width="5.5" height="5.5" fill="#0000ff"/><rect x="614.92" y="425.69" width="5.5" height="5.5" fill="#0000ff"/><rect x="618.2" y="425.69" width="5.5" height="5.5" fill="#0000ff"/><rect x="621.46" y="425.69" width="5.5" height="5.5" fill="#0000ff"/><rect x="624.71" y="425.69" width="5.5" height="5.5" fill="#0000ff"/><rect x="627.93" y="425.69" width="5.5" height="5.5" fill="#0000ff"/><rect x="634.33" y="425.69" width="5.5" height="5.5" fill="#0000ff"/><rect x="637.5" y="425.69" width="5.5" height="5.5" fill="#0000ff"/><rect x="640.65" y="425.69" width="5.5" height="5.5" fill="#0000ff"/><rect x="643.79" y="425.68" width="5.5" height="5.5" fill="#0000ff"/><rect x="650.01" y="425.68" width="5.5" height="5.5" fill="#0000ff"/><rect x="653.09" y="425.68" width="5.5" height="5.5" fill="#0000ff"/><rect x="659.21" y="425.68" width="5.5" height="5.5" fill="#0000ff"/><rect x="662.25" y="425.67" width="5.5" height="5.5" fill="#0000ff"/><rect x="665.27" y="425.67" width="5.5" height="5.5" fill="#0000ff"/><rect x="668.27" y="425.67" width="5.5" height="5.5" fill="#0000ff"/><rect x="671.26" y="425.67" width="5.5" height="5.5" fill="#0000ff"/><rect x="674.24" y="425.67" width="5.5" height="5.5" fill="#0000ff"/><rect x="677.2" y="425.66" width="5.5" height="5.5" fill="#0000ff"/><rect x="683.08" y="425.66" width="5.5" height="5.5" fill="#0000ff"/><rect x="685.99" y="425.66" width="5.5" height="5.5" fill="#0000ff"/><rect x="688.9" y="425.65" width="5.5" height="5.5" fill="#0000ff"/><rect x="691.79" y="425.65" width="5.5" height="5.5" fill="#0000ff"/><rect x="694.67" y="425.65" width="5.5" height="5.5" fill="#0000ff"/><rect x="697.53" y="425.65" width="5.5" height="5.5" fill="#0000ff"/><rect x="700.38" y="425.64" width="5.5" height="5.5" fill="#0000ff"/><rect x="708.85" y="425.63" width="5.5" height="5.5" fill="#0000ff"/><rect x="711.65" y="425.63" width="5.5" height="5.5" fill="#0000ff"/><rect x="714.44" y="425.63" width="5.5" height="5.5" fill="#0000ff"/><rect x="717.22" y="425.62" width="5.5" height="5.5" fill="#0000ff"/><rect x="719.98" y="425.62" width="5.5" height="5.5" fill="#0000ff"/></g>
<g stroke-width="1"><circle cx="137.15" cy="449.04" r="3.3" stroke="#0000ff" fill="none"/><circle cx="161.86" cy="448.64" r="3.3" stroke="#0000ff" fill="none"/><circle cx="180.82" cy="448.12" r="3.3" stroke="#0000ff" fill="none"/><circle cx="196.8" cy="447.72" r="3.3" stroke="#0000ff" fill="none"/><circle cx="210.88" cy="447.06" r="3.3" stroke="#0000ff" fill="none"/><circle cx="223.62" cy="446.1" r="3.3" stroke="#0000ff" fill="none"/><circle cx="246.22" cy="444.58" r="3.3" stroke="#0000ff" fill="none"/><circle cx="256.45" cy="443.26" r="3.3" stroke="#0000ff" fill="none"/><circle cx="266.13" cy="441.96" r="3.3" stroke="#0000ff" fill="none"/><circle cx="275.34" cy="440.41" r="3.3" stroke="#0000ff" fill="none"/><circle cx="284.14" cy="438.68" r="3.3" stroke="#0000ff" fill="none"/><circle cx="292.58" cy="437.15" r="3.3" stroke="#0000ff" fill="none"/><circle cx="300.7" cy="434.48" r="3.3" stroke="#0000ff" fill="none"/><circle cx="316.11" cy="428.63" r="3.3" stroke="#0000ff" fill="none"/><circle cx="323.45" cy="425.12" r="3.3" stroke="#0000ff" fill="none"/><circle cx="330.58" cy="421.39" r="3.3" stroke="#0000ff" fill="none"/><circle cx="337.51" cy="417.31" r="3.3" stroke="#0000ff" fill="none"/><circle cx="344.27" cy="412.86" r="3.3" stroke="#0000ff" fill="none"/><circle cx="350.86" cy="410.67" r="3.3" stroke="#0000ff" fill="none"/><circle cx="357.29" cy="410.45" r="3.3" stroke="#0000ff" fill="none"/><circle cx="369.73" cy="412.85" r="3.3" stroke="#0000ff" fill="none"/><circle cx="375.76" cy="414.17" r="3.3" stroke="#0000ff" fill="none"/><circle cx="381.66" cy="415.7" r="3.3" stroke="#0000ff" fill="none"/><circle cx="387.46" cy="418.11" r="3.3" stroke="#0000ff" fill="none"/><circle cx="398.73" cy="420.95" r="3.3" stroke="#0000ff" fill="none"/><circle cx="404.22" cy="422.04" r="3.3" stroke="#0000ff" fill="none"/><circle cx="414.94" cy="423.79" r="3.3" stroke="#0000ff" fill="none"/><circle cx="420.17" cy="425.09" r="3.3" stroke="#0000ff" fill="none"/><circle cx="425.32" cy="425.73" r="3.3" stroke="#0000ff" fill="none"/><circle cx="430.4" cy="426.2" r="3.3" stroke="#0000ff" fill="none"/><circle cx="435.41" cy="426.59" r="3.3" stroke="#0000ff" fill="none"/><circle cx="440.35" cy="426.9" r="3.3" stroke="#0000ff" fill="none"/><circle cx="445.22" cy="427.15" r="3.3" stroke="#0000ff" fill="none"/><circle cx="454.77" cy="427.51" r="3.3" stroke="#0000ff" fill="none"/><circle cx="459.46" cy="427.65" r="3.3" stroke="#0000ff" fill="none"/><circle cx="464.09" cy="427.79" r="3.3" stroke="#0000ff" fill="none"/><circle cx="468.66" cy="427.91" r="3.3" stroke="#0000ff" fill="none"/><circle cx="473.18" cy="428.01" r="3.3" stroke="#0000ff" fill="none"/><circle cx="477.65" cy="428.1" r="3.3" stroke="#0000ff" fill="none"/><circle cx="482.08" cy="428.17" r="3.3" stroke="#0000ff" fill="none"/><circle cx="490.78" cy="428.24" r="3.3" stroke="#0000ff" fill="none"/><circle cx="495.06" cy="428.25" r="3.3" stroke="#0000ff" fill="none"/><circle cx="499.3" cy="428.25" r="3.3" stroke="#0000ff" fill="none"/><circle cx="503.5" cy="428.26" r="3.3" stroke="#0000ff" fill="none"/><circle cx="507.65" cy="428.27" r="3.3" stroke="#0000ff" fill="none"/><circle cx="511.77" cy="428.27" r="3.3" stroke="#0000ff" fill="none"/><circle cx="515.85" cy="428.28" r="3.3" stroke="#0000ff" fill="none"/><circle cx="523.89" cy="428.28" r="3.3" stroke="#0000ff" fill="none"/><circle cx="527.86" cy="428.28" r="3.3" stroke="#0000ff" fill="none"/><circle cx="531.79" cy="428.28" r="3.3" stroke="#0000ff" fill="none"/><circle cx="535.69" cy="428.28" r="3.3" stroke="#0000ff" fill="none"/><circle cx="543.39" cy="428.28" r="3.3" stroke="#0000ff" fill="none"/><circle cx="547.2" cy="428.28" r="3.3" stroke="#0000ff" fill="none"/><circle cx="554.71" cy="428.28" r="3.3" stroke="#0000ff" fill="none"/><circle cx="558.42" cy="428.28" r="3.3" stroke="#0000ff" fill="none"/><circle cx="562.11" cy="428.28" r="3.3" stroke="#0000ff" fill="none"/><circle cx="565.77" cy="428.28" r="3.3" stroke="#0000ff" fill="none"/><circle cx="569.4" cy="428.28" r="3.3" stroke="#0000ff" fill="none"/><circle cx="573" cy="428.28" r="3.3" stroke="#0000ff" fill="none"/><circle cx="576.58" cy="428.28" r="3.3" stroke="#0000ff" fill="none"/><circle cx="583.66" cy="428.28" r="3.3" stroke="#0000ff" fill="none"/><circle cx="587.16" cy="428.28" r="3.3" stroke="#0000ff" fill="none"/><circle cx="590.64" cy="428.27" r="3.3" stroke="#0000ff" fill="none"/><circle cx="594.1" cy="428.27" r="3.3" stroke="#0000ff" fill="none"/><circle cx="597.53" cy="428.27" r="3.3" stroke="#0000ff" fill="none"/><circle cx="600.94" cy="428.27" r="3.3" stroke="#0000ff" fill="none"/><circle cx="604.33" cy="428.27" r="3.3" stroke="#0000ff" fill="none"/><circle cx="611.04" cy="428.27" r="3.3" stroke="#0000ff" fill="none"/><circle cx="614.36" cy="428.27" r="3.3" stroke="#0000ff" fill="none"/><circle cx="617.67" cy="428.27" r="3.3" stroke="#0000ff" fill="none"/><circle cx="620.95" cy="428.27" r="3.3" stroke="#0000ff" fill="none"/><circle cx="624.21" cy="428.27" r="3.3" stroke="#0000ff" fill="none"/><circle cx="627.46" cy="428.27" r="3.3" stroke="#0000ff" fill="none"/><circle cx="630.68" cy="428.27" r="3.3" stroke="#0000ff" fill="none"/><circle cx="637.08" cy="428.26" r="3.3" stroke="#0000ff" fill="none"/><circle cx="640.25" cy="428.26" r="3.3" stroke="#0000ff" fill="none"/><circle cx="643.4" cy="428.26" r="3.3" stroke="#0000ff" fill="none"/><circle cx="646.54" cy="428.26" r="3.3" stroke="#0000ff" fill="none"/><circle cx="652.76" cy="428.26" r="3.3" stroke="#0000ff" fill="none"/><circle cx="655.84" cy="428.25" r="3.3" stroke="#0000ff" fill="none"/><circle cx="661.96" cy="428.25" r="3.3" stroke="#0000ff" fill="none"/><circle cx="665" cy="428.25" r="3.3" stroke="#0000ff" fill="none"/><circle cx="668.02" cy="428.25" r="3.3" stroke="#0000ff" fill="none"/><circle cx="671.02" cy="428.24" r="3.3" stroke="#0000ff" fill="none"/><circle cx="674.01" cy="428.24" r="3.3" stroke="#0000ff" fill="none"/><circle cx="676.99" cy="428.24" r="3.3" stroke="#0000ff" fill="none"/><circle cx="679.95" cy="428.24" r="3.3" stroke="#0000ff" fill="none"/><circle cx="685.83" cy="428.23" r="3.3" stroke="#0000ff" fill="none"/><circle cx="688.74" cy="428.23" r="3.3" stroke="#0000ff" fill="none"/><circle cx="691.65" cy="428.23" r="3.3" stroke="#0000ff" fill="none"/><circle cx="694.54" cy="428.23" r="3.3" stroke="#0000ff" fill="none"/><circle cx="697.42" cy="428.22" r="3.3" stroke="#0000ff" fill="none"/><circle cx="700.28" cy="428.22" r="3.3" stroke="#0000ff" fill="none"/><circle cx="703.13" cy="428.22" r="3.3" stroke="#0000ff" fill="none"/><circle cx="711.6" cy="428.21" r="3.3" stroke="#0000ff" fill="none"/><circle cx="714.4" cy="428.21" r="3.3" stroke="#0000ff" fill="none"/><circle cx="717.19" cy="428.2" r="3.3" stroke="#0000ff" fill="none"/><circle cx="719.97" cy="428.2" r="3.3" stroke="#0000ff" fill="none"/><circle cx="722.73" cy="428.2" r="3.3" stroke="#0000ff" fill="none"/></g>
<path d="M77.5 450 L79.72 450 L81.94 450 L84.16 449.99 L86.38 449.99 L88.6 449.98 L90.82 449.97 L93.04 449.96 L95.26 449.95 L97.48 449.94 L99.7 449.93 L101.92 449.91 L104.14 449.9 L106.36 449.88 L108.58 449.87 L110.8 449.85 L113.02 449.83 L115.24 449.82 L117.46 449.8 L119.68 449.78 L121.9 449.76 L124.12 449.74 L126.34 449.71 L128.56 449.68 L130.78 449.64 L133 449.61 L135.22 449.56 L137.44 449.52 L139.66 449.48 L141.88 449.43 L144.1 449.38 L146.32 449.32 L148.54 449.27 L150.76 449.21 L152.98 449.16 L155.2 449.1 L157.42 449.04 L159.64 448.98 L161.86 448.92 L164.08 448.86 L166.3 448.8 L168.52 448.73 L170.74 448.67 L172.96 448.6 L175.18 448.54 L177.4 448.46 L179.62 448.39 L181.84 448.32 L184.06 448.24 L186.28 448.16 L188.5 448.08 L190.72 447.99 L192.94 447.9 L195.16 447.81 L197.38 447.72 L199.6 447.62 L201.82 447.53 L204.04 447.43 L206.26 447.32 L208.48 447.21 L210.7 447.1 L212.92 446.99 L215.14 446.88 L217.36 446.76 L219.58 446.63 L221.8 446.51 L224.02 446.37 L226.24 446.22 L228.46 446.06 L230.68 445.89 L232.9 445.71 L235.12 445.53 L237.34 445.34 L239.56 445.14 L241.78 444.93 L244 444.72 L246.22 444.51 L248.44 444.28 L250.66 444.04 L252.88 443.79 L255.1 443.52 L257.32 443.24 L259.54 442.96 L261.76 442.67 L263.98 442.37 L266.2 442.06 L268.42 441.76 L270.64 441.44 L272.86 441.12 L275.08 440.79 L277.3 440.44 L279.52 440.07 L281.74 439.69 L283.96 439.28 L286.18 438.85 L288.4 438.39 L290.62 437.9 L292.84 437.38 L295.06 436.83 L297.28 436.25 L299.5 435.63 L301.72 434.98 L303.94 434.26 L306.16 433.49 L308.38 432.66 L310.6 431.79 L312.82 430.87 L315.04 429.92 L317.26 428.93 L319.48 427.79 L321.7 426.57 L323.92 425.3 L326.14 424.04 L328.36 422.85 L330.58 421.78 L332.8 420.8 L335.02 419.87 L337.24 419.06 L339.46 418.4 L341.68 417.8 L343.9 417.3 L346.12 416.97 L348.34 416.76 L350.56 416.58 L352.78 416.44 L355 416.35 L357.22 416.31 L359.44 416.36 L361.66 416.49 L363.88 416.67 L366.1 416.89 L368.32 417.12 L370.54 417.36 L372.76 417.67 L374.98 418.04 L377.2 418.44 L379.42 418.86 L381.64 419.28 L383.86 419.69 L386.08 420.09 L388.3 420.5 L390.52 420.92 L392.74 421.35 L394.96 421.76 L397.18 422.17 L399.4 422.55 L401.62 422.91 L403.84 423.27 L406.06 423.62 L408.28 423.93 L410.5 424.19 L412.72 424.41 L414.94 424.63 L417.16 424.83 L419.38 425.03 L421.6 425.22 L423.82 425.4 L426.04 425.57 L428.26 425.74 L430.48 425.9 L432.7 426.05 L434.92 426.19 L437.14 426.33 L439.36 426.46 L441.58 426.59 L443.8 426.71 L446.02 426.82 L448.24 426.93 L450.46 427.03 L452.68 427.13 L454.9 427.23 L457.12 427.33 L459.34 427.43 L461.56 427.53 L463.78 427.62 L466 427.71 L468.22 427.8 L470.44 427.88 L472.66 427.96 L474.88 428.03 L477.1 428.1 L479.32 428.16 L481.54 428.21 L483.76 428.26 L485.98 428.3 L488.2 428.33 L490.42 428.34 L492.64 428.36 L494.86 428.37 L497.08 428.38 L499.3 428.39 L501.52 428.4 L503.74 428.41 L505.96 428.42 L508.18 428.43 L510.4 428.44 L512.62 428.44 L514.84 428.45 L517.06 428.45 L519.28 428.45 L521.5 428.45 L523.72 428.45 L525.94 428.45 L528.16 428.45 L530.38 428.45 L532.6 428.45 L534.82 428.44 L537.04 428.44 L539.26 428.43 L541.48 428.43 L543.7 428.42 L545.92 428.42 L548.14 428.41 L550.36 428.41 L552.58 428.4 L554.8 428.4 L557.02 428.39 L559.24 428.39 L561.46 428.38 L563.68 428.38 L565.9 428.37 L568.12 428.37 L570.34 428.36 L572.56 428.36 L574.78 428.36 L577 428.35 L579.22 428.35 L581.44 428.35 L583.66 428.35 L585.88 428.34 L588.1 428.34 L590.32 428.34 L592.54 428.34 L594.76 428.34 L596.98 428.34 L599.2 428.34 L601.42 428.34 L603.64 428.34 L605.86 428.34 L608.08 428.34 L610.3 428.34 L612.52 428.34 L614.74 428.34 L616.96 428.34 L619.18 428.34 L621.4 428.34 L623.62 428.34 L625.84 428.34 L628.06 428.34 L630.28 428.34 L632.5 428.34 L634.72 428.34 L636.94 428.34 L639.16 428.34 L641.38 428.34 L643.6 428.34 L645.82 428.34 L648.04 428.34 L650.26 428.34 L652.48 428.34 L654.7 428.34 L656.92 428.34 L659.14 428.34 L661.36 428.34 L663.58 428.34 L665.8 428.34 L668.02 428.34 L670.24 428.34 L672.46 428.34 L674.68 428.34 L676.9 428.34 L679.12 428.34 L681.34 428.34 L683.56 428.34 L685.78 428.34 L688 428.34 L690.22 428.34 L692.44 428.34 L694.66 428.34 L696.88 428.34 L699.1 428.34 L701.32 428.34 L703.54 428.34 L705.76 428.34 L707.98 428.34 L710.2 428.34 L712.42 428.34 L714.64 428.34 L716.86 428.34 L719.08 428.34 L721.3 428.34 L723.52 428.34 L725.74 428.34 L727.96 428.34 L730.18 428.34 L732.4 428.34 L734.62 428.34 L736.84 428.34 L739.06 428.34 L741.28 428.34 L743.5 428.34" stroke="#00ff00" stroke-width="2.2" fill="none" stroke-linejoin="round"/>
<path d="M77.11 428.5H743.8" stroke="#000" stroke-opacity="0.5" stroke-width="1" stroke-dasharray="1.3 2.01" fill="none"/>
<rect x="77.3" y="13.2" width="666.5" height="437" fill="none" stroke="#000" stroke-width="1.45" stroke-linejoin="round"/>
<text transform="translate(64.5 457.8) scale(0.988 1.04)" text-anchor="end">0</text>
<text transform="translate(64.5 348.55) scale(0.988 1.04)" text-anchor="end">5</text>
<text transform="translate(64.5 239.3) scale(0.988 1.04)" text-anchor="end">10</text>
<text transform="translate(64.5 130.05) scale(0.988 1.04)" text-anchor="end">15</text>
<text transform="translate(64.5 20.8) scale(0.988 1.04)" text-anchor="end">20</text>
<text transform="translate(78 479.9) scale(0.988 1.04)" text-anchor="middle">0.0</text>
<text transform="translate(189.08 479.9) scale(0.988 1.04)" text-anchor="middle">0.5</text>
<text transform="translate(300.17 479.9) scale(0.988 1.04)" text-anchor="middle">1.0</text>
<text transform="translate(411.25 479.9) scale(0.988 1.04)" text-anchor="middle">1.5</text>
<text transform="translate(522.33 479.9) scale(0.988 1.04)" text-anchor="middle">2.0</text>
<text transform="translate(633.42 479.9) scale(0.988 1.04)" text-anchor="middle">2.5</text>
<text transform="translate(744.5 479.9) scale(0.988 1.04)" text-anchor="middle">3.0</text>
<text transform="translate(20.6 232.4) rotate(-90) scale(0.988 1.04)" text-anchor="middle">S(q)</text>
<text transform="translate(410.9 510.6) scale(0.988 1.04)" text-anchor="middle">q/k<tspan dy="6.7" font-size="17.68">0</tspan></text>
<text transform="translate(618 36.7) scale(0.996 1.04)" text-anchor="end">solid (U=4.00</text>
<text transform="translate(618 36.7) scale(1.13 1.0)" font-style="normal" font-size="23.43">ε</text>
<text transform="translate(644.1 36.7) scale(0.988 1.04)" text-anchor="end"><tspan dy="6" font-size="17.68">0</tspan><tspan dy="-6">)</tspan></text>
<path d="M657.5 31.2H717.4M657.5 27.6v7.2M717.4 27.6v7.2" stroke="#ff0000" stroke-width="1" fill="none"/>
<rect x="684.15" y="27.95" width="6.5" height="6.5" stroke="#ff0000" fill="none" stroke-width="1"/>
<text transform="translate(618 58.77) scale(0.996 1.04)" text-anchor="end">solid (U=4.05</text>
<text transform="translate(618 58.77) scale(1.13 1.0)" font-style="normal" font-size="23.43">ε</text>
<text transform="translate(644.1 58.77) scale(0.988 1.04)" text-anchor="end"><tspan dy="6" font-size="17.68">0</tspan><tspan dy="-6">)</tspan></text>
<path d="M657.5 53.27H717.4M657.5 49.67v7.2M717.4 49.67v7.2" stroke="#ff0000" stroke-width="1" fill="none"/>
<rect x="684.65" y="50.52" width="5.5" height="5.5" fill="#ff0000" stroke-width="1"/>
<text transform="translate(618 80.84) scale(0.996 1.04)" text-anchor="end">solid (U=4.10</text>
<text transform="translate(618 80.84) scale(1.13 1.0)" font-style="normal" font-size="23.43">ε</text>
<text transform="translate(644.1 80.84) scale(0.988 1.04)" text-anchor="end"><tspan dy="6" font-size="17.68">0</tspan><tspan dy="-6">)</tspan></text>
<path d="M657.5 75.34H717.4M657.5 71.74v7.2M717.4 71.74v7.2" stroke="#ff0000" stroke-width="1" fill="none"/>
<circle cx="687.4" cy="75.34" r="3.3" stroke="#ff0000" fill="none" stroke-width="1"/>
<text transform="translate(618 102.91) scale(0.996 1.04)" text-anchor="end">fluid (U=4.00</text>
<text transform="translate(618 102.91) scale(1.13 1.0)" font-style="normal" font-size="23.43">ε</text>
<text transform="translate(644.1 102.91) scale(0.988 1.04)" text-anchor="end"><tspan dy="6" font-size="17.68">0</tspan><tspan dy="-6">)</tspan></text>
<path d="M657.5 97.41H717.4M657.5 93.81v7.2M717.4 93.81v7.2" stroke="#0000ff" stroke-width="1" fill="none"/>
<rect x="684.15" y="94.16" width="6.5" height="6.5" stroke="#0000ff" fill="none" stroke-width="1"/>
<text transform="translate(618 124.98) scale(0.996 1.04)" text-anchor="end">fluid (U=4.05</text>
<text transform="translate(618 124.98) scale(1.13 1.0)" font-style="normal" font-size="23.43">ε</text>
<text transform="translate(644.1 124.98) scale(0.988 1.04)" text-anchor="end"><tspan dy="6" font-size="17.68">0</tspan><tspan dy="-6">)</tspan></text>
<path d="M657.5 119.48H717.4M657.5 115.88v7.2M717.4 115.88v7.2" stroke="#0000ff" stroke-width="1" fill="none"/>
<rect x="684.65" y="116.73" width="5.5" height="5.5" fill="#0000ff" stroke-width="1"/>
<text transform="translate(618 147.05) scale(0.996 1.04)" text-anchor="end">fluid (U=4.10</text>
<text transform="translate(618 147.05) scale(1.13 1.0)" font-style="normal" font-size="23.43">ε</text>
<text transform="translate(644.1 147.05) scale(0.988 1.04)" text-anchor="end"><tspan dy="6" font-size="17.68">0</tspan><tspan dy="-6">)</tspan></text>
<path d="M657.5 141.55H717.4M657.5 137.95v7.2M717.4 137.95v7.2" stroke="#0000ff" stroke-width="1" fill="none"/>
<circle cx="687.4" cy="141.55" r="3.3" stroke="#0000ff" fill="none" stroke-width="1"/>
<text transform="translate(644.1 170.32) scale(0.988 1.04)" text-anchor="end">HNC−EL/0</text>
<path d="M657.5 163.62H717.4" stroke="#00ff00" stroke-width="2.2" fill="none"/>
</svg>
</body></html>
